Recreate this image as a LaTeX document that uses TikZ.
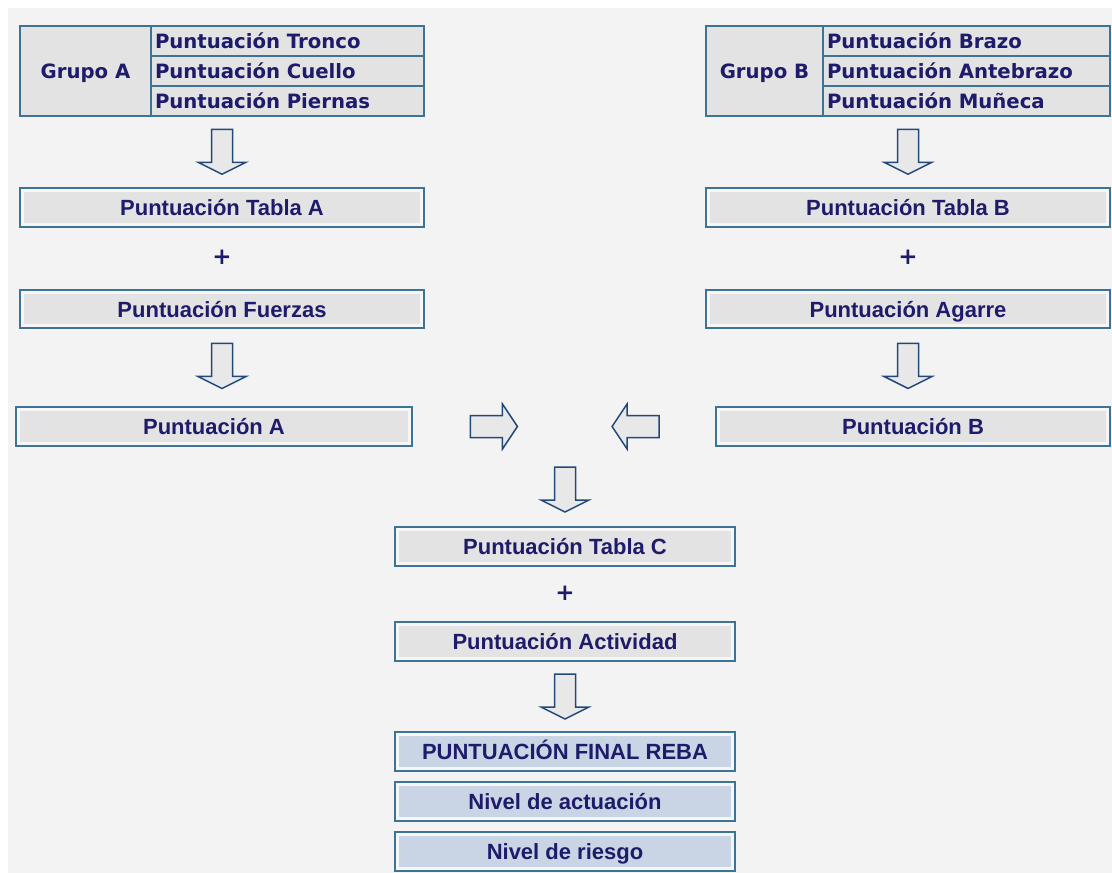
\documentclass[tikz,border=0pt]{standalone}
\usepackage{fontspec}
\setmainfont{Liberation Sans}
\newfontfamily\tabfont{DejaVu Sans}
\usetikzlibrary{calc}
\definecolor{bgc}{HTML}{F3F3F3}
\definecolor{bordc}{HTML}{3D7394}
\definecolor{cellc}{HTML}{E3E3E3}
\definecolor{bandc}{HTML}{F6F6F6}
\definecolor{bluec}{HTML}{C9D5E4}
\definecolor{txtc}{HTML}{1F1B6B}
\definecolor{arrc}{HTML}{22497A}
\definecolor{arrfill}{HTML}{E8E8E8}
\tikzset{
  cellbox/.style={draw=bordc, line width=2pt, fill=cellc, inner sep=0pt, text=txtc,
    font=\tabfont\bfseries\fontsize{19.7}{22}\selectfont, text height=16.5pt, text depth=2.5pt},
  rowbox/.style={cellbox, minimum height=30, inner xsep=4pt, align=left},
  box/.style={draw=bordc, line width=2pt, fill=cellc, inner sep=0pt, minimum height=39,
    text=txtc, font=\bfseries\fontsize{22}{26}\selectfont, text height=19pt, text depth=3pt,
    path picture={\draw[bandc, line width=8pt] (path picture bounding box.south west) rectangle (path picture bounding box.north east);}},
  bluebox/.style={box, fill=bluec},
  plussign/.style={text=txtc, font=\tabfont\bfseries\fontsize{23}{24}\selectfont, inner sep=0pt},
  arrowshape/.style={draw=arrc, line width=1.5pt, fill=arrfill, line join=miter},
  downarrow/.pic={\draw[arrowshape] (-10.5,-22.5) -- (10.5,-22.5) -- (10.5,10.5) -- (24,10.5) -- (0,22.5) -- (-24,10.5) -- (-10.5,10.5) -- cycle;},
  rightarrow/.pic={\draw[arrowshape] (-23.5,-11) -- (8.5,-11) -- (8.5,-22.5) -- (23.5,0) -- (8.5,22.5) -- (8.5,11) -- (-23.5,11) -- cycle;},
  leftarrow/.pic={\draw[arrowshape] (23.5,-11) -- (-8.5,-11) -- (-8.5,-22.5) -- (-23.5,0) -- (-8.5,22.5) -- (-8.5,11) -- (23.5,11) -- cycle;}
}
\begin{document}
\begin{tikzpicture}[x=1pt, y=-1pt]
\useasboundingbox (0,0) rectangle (1112,873);
\fill[white] (0,0) rectangle (1112,873);
\fill[bgc] (8,8) rectangle (1112,873);

% Group A table
\node[cellbox, minimum width=131, minimum height=90] (ga) at (85.5,71) {Grupo A};
\node[rowbox, text width=265] (ga1) at (287.5,41) {Puntuación Tronco};
\node[rowbox, text width=265] (ga2) at (287.5,71) {Puntuación Cuello};
\node[rowbox, text width=265] (ga3) at (287.5,101) {Puntuación Piernas};

% Group B table
\node[cellbox, minimum width=117, minimum height=90] (gb) at (764.5,71) {Grupo B};
\node[rowbox, text width=279] (gb1) at (966.5,41) {Puntuación Brazo};
\node[rowbox, text width=279] (gb2) at (966.5,71) {Puntuación Antebrazo};
\node[rowbox, text width=279] (gb3) at (966.5,101) {Puntuación Muñeca};

% Left column
\node[box, minimum width=404] (ta) at (222,207) {Puntuación Tabla A};
\node[plussign] (pla) at (222,257) {+};
\node[box, minimum width=404, minimum height=38] (fa) at (222,309) {Puntuación Fuerzas};
\node[box, minimum width=396] (pa) at (214,426.5) {Puntuación A};

% Right column
\node[box, minimum width=404] (tb) at (908,207) {Puntuación Tabla B};
\node[plussign] (plb) at (908,257) {+};
\node[box, minimum width=404, minimum height=38] (ab) at (908,309) {Puntuación Agarre};
\node[box, minimum width=394] (pb) at (913,426.5) {Puntuación B};

% Centre column
\node[box, minimum width=340] (tc) at (565,546) {Puntuación Tabla C};
\node[plussign] (plc) at (565,593) {+};
\node[box, minimum width=340] (ac) at (565,641.5) {Puntuación Actividad};
\node[bluebox, minimum width=340] (fr) at (565,751.5) {PUNTUACIÓN FINAL REBA};
\node[bluebox, minimum width=340] (na) at (565,801.5) {Nivel de actuación};
\node[bluebox, minimum width=340] (nr) at (565,851.5) {Nivel de riesgo};

% Block arrows
\pic at ($(ga3.south -| ta.north)!0.5!(ta.north)$) {downarrow};
\pic at ($(gb3.south -| tb.north)!0.5!(tb.north)$) {downarrow};
\pic at ($(fa.south)!0.48!(fa.south |- pa.north)$) {downarrow};
\pic at ($(ab.south)!0.48!(ab.south |- pb.north)$) {downarrow};
\pic at ($(pa.east)!0.268!(pb.west)$) {rightarrow};
\pic at ($(pa.east)!0.737!(pb.west)$) {leftarrow};
\pic at ($(tc.north)+(0,-36)$) {downarrow};
\pic at ($(ac.south)!0.5!(fr.north)$) {downarrow};
\end{tikzpicture}
\end{document}
